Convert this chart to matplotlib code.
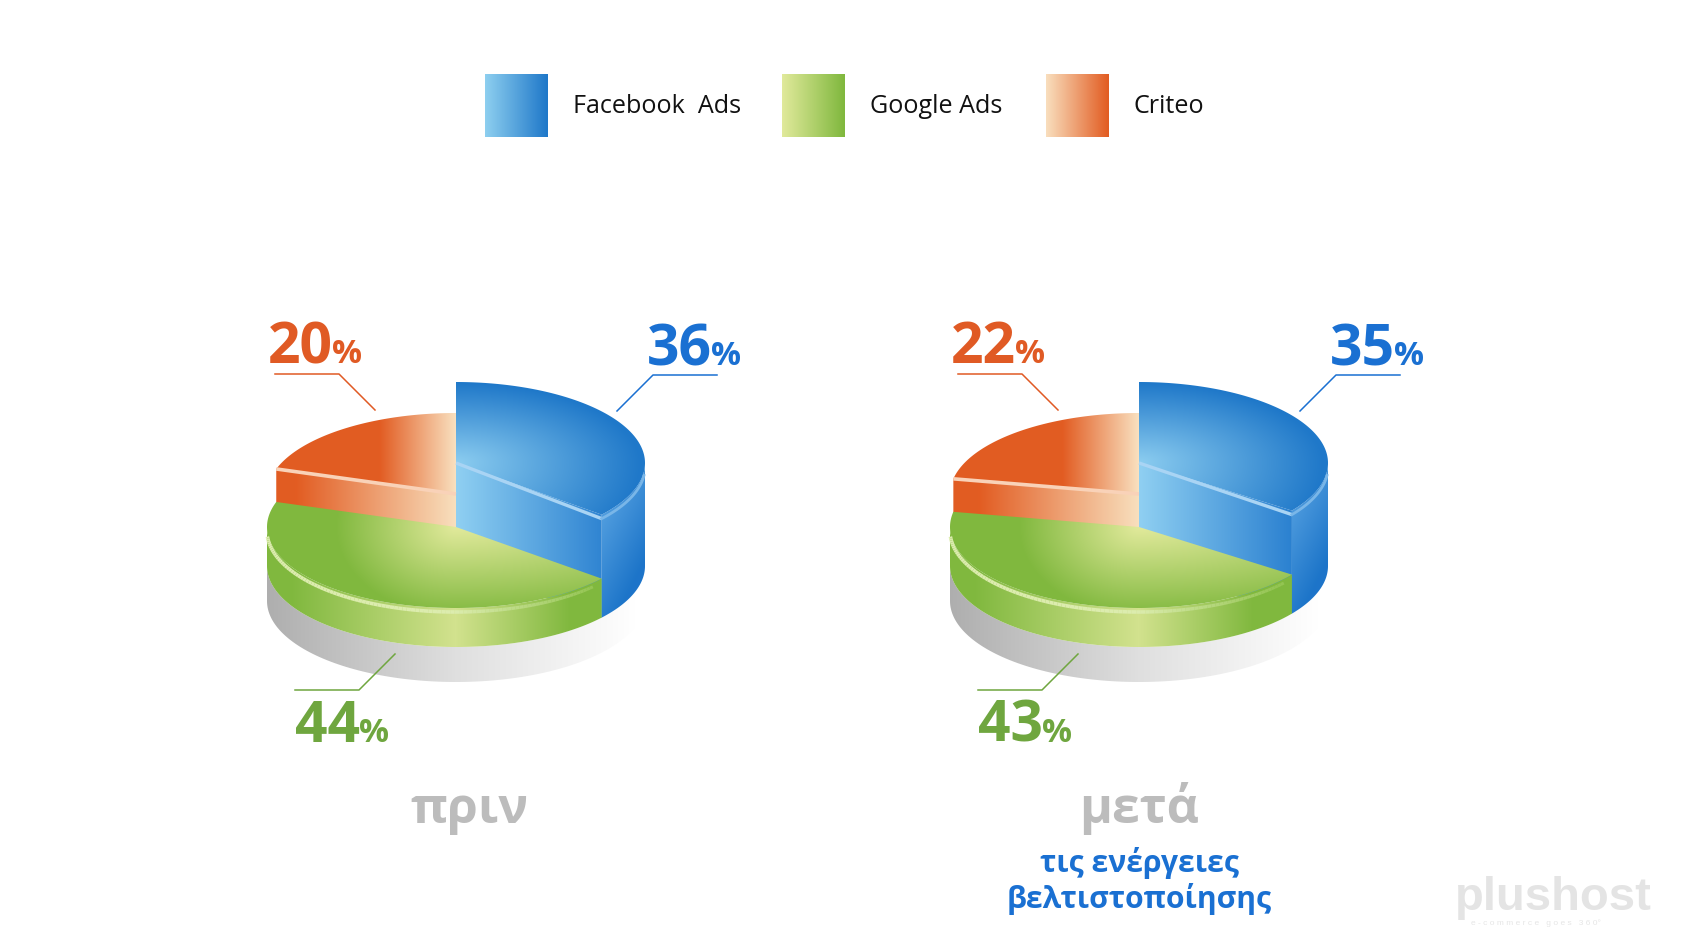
import numpy as np
import matplotlib
matplotlib.use("Agg")
import matplotlib.pyplot as plt
from matplotlib.patches import Polygon
from matplotlib.collections import LineCollection

plt.rcParams["font.family"] = ["Open Sans", "DejaVu Sans"]

channels = ["Facebook  Ads", "Google Ads", "Criteo"]
before_values = [36, 44, 20]
after_values = [35, 43, 22]
before_title = "πριν"
after_title = "μετά"
after_subtitle = ["τις ενέργειες", "βελτιστοποίησης"]

BLUE = "#1a70d2"
GREEN = "#6fa63f"
ORANGE = "#e05a24"
GREY = "#bcbcbc"

RX, RY = 189, 81


def rgb(hex_color):
    return np.array(matplotlib.colors.to_rgb(hex_color))


def ramp(t, c0, c1):
    t = np.clip(t, 0, 1)[..., None]
    return rgb(c0) * (1 - t) + rgb(c1) * t


def arc(cx, cy, a0, a1, n=120):
    #angles are clockwise from the top of the pie
    a = np.radians(np.linspace(a0, a1, n))
    return np.column_stack([cx + RX * np.sin(a), cy - RY * np.cos(a)])


def fill(ax, pts, shade):
    #draw a gradient image clipped to the polygon
    x0, y0 = np.floor(pts.min(axis=0)) - 1
    x1, y1 = np.ceil(pts.max(axis=0)) + 1
    xx, yy = np.meshgrid(np.arange(x0, x1 + 1), np.arange(y0, y1 + 1))
    im = ax.imshow(shade(xx, yy), extent=(x0 - 0.5, x1 + 0.5, y1 + 0.5, y0 - 0.5),
                   origin="upper", interpolation="bilinear", aspect="auto", zorder=2)
    patch = Polygon(pts, closed=True, transform=ax.transData, facecolor="none", edgecolor="none")
    ax.add_patch(patch)
    im.set_clip_path(patch)


def draw_pie(ax, cx, values, title):
    blue_end = values[0] / sum(values) * 360
    orange_start = 360 - values[2] / sum(values) * 360

    cy_blue, cy_orange, cy_green, cy_base, cy_floor = 463, 494, 527, 566, 601

    #grey base
    base = np.vstack([arc(cx, cy_base, 90, 270), arc(cx, cy_floor, 270, 90)])
    fill(ax, base, lambda x, y: np.where(
        (x < cx)[..., None],
        ramp((x - cx + RX) / RX, "#aeaeae", "#dfdfdf"),
        ramp((x - cx) / (RX * 0.95), "#dfdfdf", "#ffffff")))

    #orange slice
    edge = arc(cx, cy_orange, orange_start, 360)
    fill(ax, np.vstack([[[cx, cy_orange]], edge]),
         lambda x, y: ramp((cx - x) / 76, "#f9e0bf", "#e25c22"))
    side = np.array([[cx, cy_orange], edge[0], edge[0] + [0, 36], [cx, cy_orange + 36]])
    fill(ax, side, lambda x, y: ramp((cx - x) / 160, "#f8dfbd", "#e25c22"))

    #blue slice
    wall = np.vstack([arc(cx, cy_blue, 90, blue_end), arc(cx, cy_base, blue_end, 90)])
    fill(ax, wall, lambda x, y: ramp((x - cx - 150) / 38 * 0.6 + (y - cy_blue - 50) / 100 * 0.8,
                                     "#4f9cde", "#1d75c9"))
    edge = arc(cx, cy_blue, 0, blue_end)
    face = np.array([[cx, cy_blue], edge[-1], edge[-1] + [0, cy_base - cy_blue], [cx, cy_base]])
    fill(ax, face, lambda x, y: ramp((x - cx) / 155, "#90d0f2", "#2a80d0"))
    def blue_top(x, y):
        sy = np.where(y < cy_blue, 80.0, 110.0)
        return ramp(np.sqrt(((x - cx) / 185) ** 2 + ((y - cy_blue) / sy) ** 2), "#8ccdf0", "#1f78c9")
    fill(ax, np.vstack([[[cx, cy_blue]], edge]), blue_top)

    #green slice
    wall = np.vstack([arc(cx, cy_green, blue_end, 270), arc(cx, cy_base, 270, blue_end)])
    fill(ax, wall, lambda x, y: ramp(np.abs(x - cx) / np.where(x < cx, 165, 115), "#d2e28e", "#80b83e"))
    edge = arc(cx, cy_green, blue_end, orange_start)
    def green_top(x, y):
        sx = np.where(x < cx, 120.0, 320.0)
        return ramp(np.sqrt(((x - cx) / sx) ** 2 + ((y - cy_green) / 90) ** 2), "#e2ea9c", "#80b83e")
    fill(ax, np.vstack([[[cx, cy_green]], edge]), green_top)

    #light edges between the faces
    apex = np.array([cx, cy_blue])
    rim = arc(cx, cy_blue, blue_end, 96, 40) + [0, 4]
    ax.plot(*np.vstack([apex, rim[0]]).T, color="#a9d4f4", lw=2.4, zorder=3, solid_capstyle="butt")
    ax.plot(rim[:, 0], rim[:, 1], color="#79b6e8", lw=2.0, zorder=3)
    tip = arc(cx, cy_orange, orange_start, orange_start, 1)[0]
    ax.plot([cx, tip[0]], [cy_orange, tip[1]], color="#f9d2b8", lw=2.6, zorder=3, solid_capstyle="butt")
    lip = arc(cx, cy_green + 4, blue_end + 4, 266, 100)
    segs = np.stack([lip[:-1], lip[1:]], axis=1)
    right = np.clip((lip[:-1, 0] - cx) / 140, 0, 1)
    lc = LineCollection(segs, colors=ramp(right, "#dcecae", "#93c452"),
                        linewidths=2.6 - 0.4 * right, zorder=3)
    ax.add_collection(lc)

    #leader lines
    ax.plot([cx + 161, cx + 197, cx + 261], [411, 375, 375], color=BLUE, lw=1.1, zorder=4)
    ax.plot([cx - 181, cx - 117, cx - 81], [374, 374, 410], color=ORANGE, lw=1.1, zorder=4)
    ax.plot([cx - 161, cx - 97, cx - 61], [690, 690, 654], color=GREEN, lw=1.1, zorder=4)

    #value labels
    label_spots = [(191, 365, BLUE), (-161, 742, GREEN), (-188, 363, ORANGE)]
    for value, (dx, y, color) in zip(values, label_spots):
        ax.text(cx + dx, y, str(value), color=color, fontsize=41, fontweight="bold",
                ha="left", va="baseline", zorder=5)
        ax.text(cx + dx + 64, y, "%", color=color, fontsize=24, fontweight="bold",
                ha="left", va="baseline", zorder=5)

    ax.text(cx + 13 if title == before_title else cx, 823, title, color=GREY,
            fontsize=36, fontweight="bold", ha="center", va="baseline", zorder=5)


def main():
    fig = plt.figure(figsize=(16.9, 9.5), dpi=100)
    ax = fig.add_axes([0, 0, 1, 1])

    #legend
    legend_x = [485, 782, 1046]
    text_x = [573, 870, 1134]
    legend_colors = [("#8fd0f0", "#1f78c9"), ("#e2ea9c", "#80b83e"), ("#f9e0bf", "#e25c22")]
    for name, x, tx, (c0, c1) in zip(channels, legend_x, text_x, legend_colors):
        box = np.array([[x, 74], [x + 63, 74], [x + 63, 137], [x, 137]], dtype=float)
        fill(ax, box, lambda xx, yy, x=x, c0=c0, c1=c1: ramp((xx - x) / 63, c0, c1))
        ax.text(tx, 113, name, fontsize=18.1, color="#111111", ha="left", va="baseline", zorder=5)

    draw_pie(ax, 456, before_values, before_title)
    draw_pie(ax, 1139, after_values, after_title)

    ax.text(1139, 872, after_subtitle[0], color=BLUE, fontsize=21.7, fontweight="bold",
            ha="center", va="baseline")
    ax.text(1139, 908, after_subtitle[1], color=BLUE, fontsize=21.7, fontweight="bold",
            ha="center", va="baseline")

    #watermark
    ax.text(1455, 910, "plushost", family="Liberation Sans", color="#e4e4e4",
            fontsize=34, fontweight="bold", ha="left", va="baseline")
    ax.text(1471, 925, "e - c o m m e r c e   g o e s   3 6 0°", family="Liberation Sans", color="#e6e6e6",
            fontsize=6, ha="left", va="baseline")

    ax.set_xlim(0, 1690)
    ax.set_ylim(950, 0)
    ax.axis("off")

    fig.savefig("out.png", dpi=100, facecolor="white")


if __name__ == "__main__":
    main()
